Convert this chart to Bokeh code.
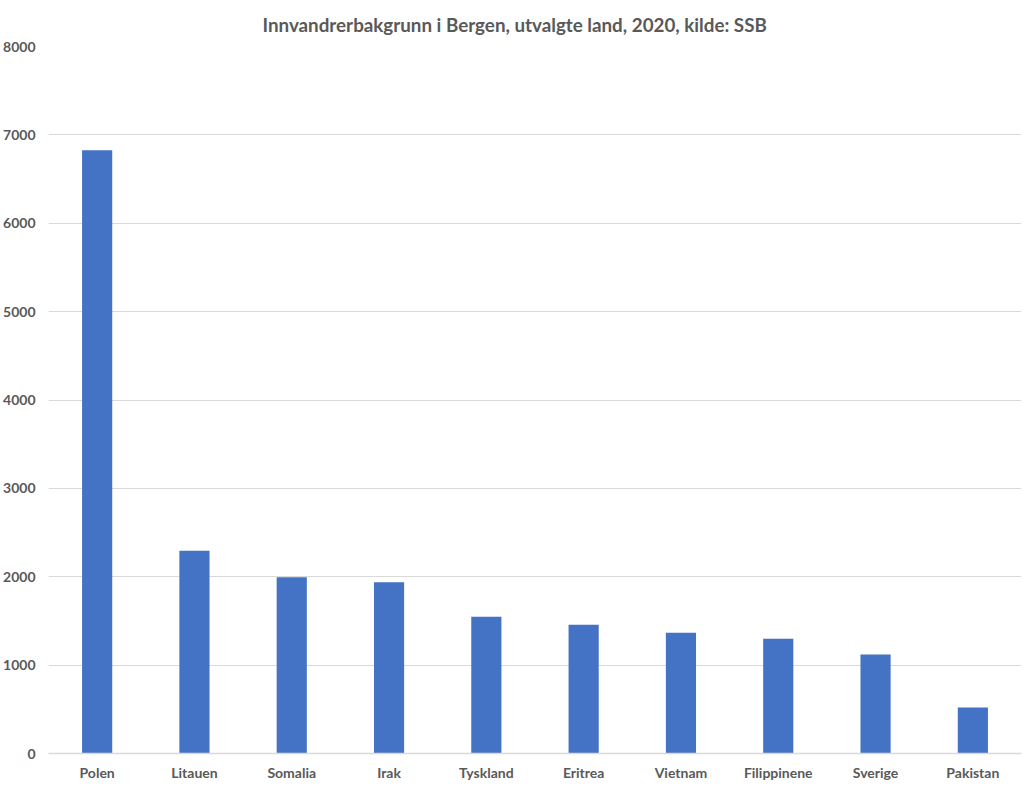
from bokeh.plotting import figure
from bokeh.models import ColumnDataSource, FixedTicker, FactorRange
from bokeh.embed import file_html
from bokeh.resources import INLINE

countries = ["Polen", "Litauen", "Somalia", "Irak", "Tyskland", "Eritrea",
             "Vietnam", "Filippinene", "Sverige", "Pakistan"]
values = [6827, 2295, 1995, 1938, 1548, 1458, 1367, 1299, 1119, 520]
y_ticks = [0, 1000, 2000, 3000, 4000, 5000, 6000, 7000, 8000]
title = "Innvandrerbakgrunn i Bergen, utvalgte land, 2020, kilde: SSB"

FONT = "Lato"
TXT = "#595959"
GRID = "#d9d9d9"

src = ColumnDataSource(dict(x=countries, top=values))

p = figure(x_range=FactorRange(*countries, range_padding=0), y_range=(0, 8000),
           frame_width=973, frame_height=707, output_backend="svg", toolbar_location=None,
           title=title, min_border_left=40, min_border_right=3,
           min_border_top=46, min_border_bottom=0)

p.vbar(x="x", top="top", width=0.31, source=src, color="#4472C4", line_color=None)

p.title.align = "left"
p.title.offset = 214
p.title.text_font = FONT
p.title.text_font_size = "18.8px"
p.title.text_font_style = "bold"
p.title.text_color = TXT
p.title.standoff = 21

p.outline_line_color = None
p.xgrid.grid_line_color = None
p.ygrid.grid_line_color = GRID
p.ygrid.grid_line_width = 1

p.yaxis.ticker = FixedTicker(ticks=y_ticks)
p.yaxis.axis_line_color = None
p.yaxis.major_tick_line_color = None
p.yaxis.minor_tick_line_color = None
p.yaxis.major_tick_out = 0
p.yaxis.major_label_standoff = 13
p.yaxis.major_label_text_font = FONT
p.yaxis.major_label_text_font_size = "14px"
p.yaxis.major_label_text_font_style = "bold"
p.yaxis.major_label_text_color = TXT

p.xaxis.axis_line_color = GRID
p.xaxis.axis_line_width = 1.5
p.xaxis.major_tick_line_color = None
p.xaxis.minor_tick_line_color = None
p.xaxis.major_tick_out = 0
p.xaxis.major_label_standoff = 10
p.xaxis.major_label_text_font = FONT
p.xaxis.major_label_text_font_size = "14px"
p.xaxis.major_label_text_font_style = "bold"
p.xaxis.major_label_text_color = TXT

open("out.html", "w").write(file_html(p, INLINE))
